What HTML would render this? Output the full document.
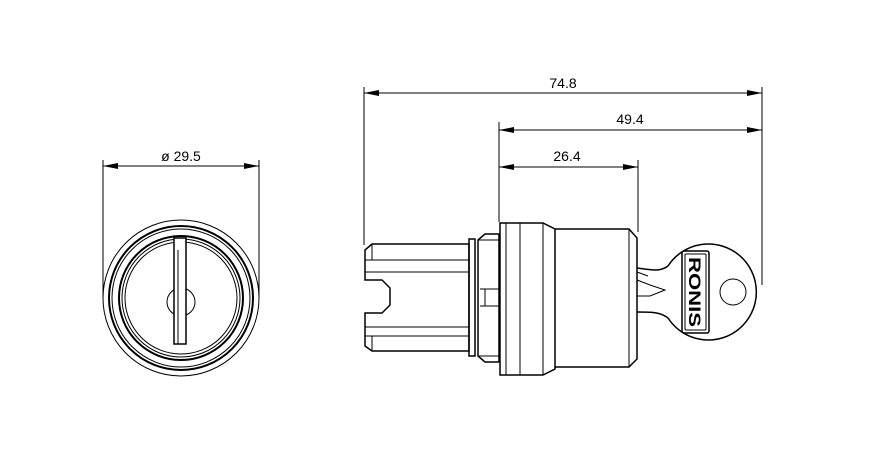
<!DOCTYPE html>
<html><head><style>body{margin:0;background:#fff}svg{display:block}</style></head><body>
<svg width="875" height="452" viewBox="0 0 875 452" xmlns="http://www.w3.org/2000/svg" font-family="Liberation Sans, sans-serif">
<defs>
<marker id="a" viewBox="0 0 10 4" refX="10" refY="2" markerWidth="24" markerHeight="6" markerUnits="userSpaceOnUse" orient="auto-start-reverse"><path d="M0,0L10,2L0,4z" fill="#000"/></marker>
</defs>
<g stroke="#000" fill="none" stroke-width="1">
<line x1="103" y1="160" x2="103" y2="298"/>
<line x1="259" y1="160" x2="259" y2="298"/>
<line x1="103" y1="166" x2="259" y2="166" marker-start="url(#a)" marker-end="url(#a)"/>
<circle cx="181" cy="298" r="78"/>
<circle cx="181" cy="298" r="72" stroke-width="2"/>
<circle cx="181" cy="298" r="69"/>
<circle cx="181" cy="298" r="62" stroke-width="2"/>
<circle cx="181" cy="298" r="59"/>
<circle cx="181" cy="298" r="56"/>
<circle cx="181" cy="302" r="14"/>
<rect x="174" y="238" width="12" height="106" fill="#fff" stroke-width="1.5"/>
<line x1="178" y1="250" x2="178" y2="344"/>
<line x1="364" y1="87" x2="364" y2="245"/>
<line x1="499" y1="122" x2="499" y2="222"/>
<line x1="638" y1="160" x2="638" y2="232"/>
<line x1="762" y1="87" x2="762" y2="285"/>
<line x1="364" y1="93" x2="762" y2="93" marker-start="url(#a)" marker-end="url(#a)"/>
<line x1="499" y1="130" x2="762" y2="130" marker-start="url(#a)" marker-end="url(#a)"/>
<line x1="499" y1="167" x2="638" y2="167" marker-start="url(#a)" marker-end="url(#a)"/>
<path d="M372,244H469V351H372L365,346V313H382L390,305V288L382,280H365V250Z" stroke-width="1.5"/>
<line x1="372" y1="244" x2="372" y2="260"/><line x1="365" y1="260" x2="469" y2="260"/>
<line x1="365" y1="272" x2="469" y2="272"/>
<line x1="365" y1="327" x2="469" y2="327"/>
<line x1="372" y1="336" x2="372" y2="351"/><line x1="365" y1="336" x2="469" y2="336"/>
<rect x="469" y="239" width="6" height="117" stroke-width="1.5"/>
<path d="M478,240L485,234H499V362H485L478,356Z" stroke-width="1.5"/>
<line x1="478" y1="240" x2="499" y2="240"/><line x1="478" y1="356" x2="499" y2="356"/>
<path d="M480,289h19M480,306h19M485,289v17"/>
<path d="M500,223H543L555,229V369L543,375H500Z" stroke-width="1.5"/>
<line x1="506" y1="223" x2="506" y2="375"/>
<line x1="520" y1="223" x2="520" y2="375"/>
<line x1="543" y1="223" x2="543" y2="375"/>
<path d="M555,229H629L637,238V359L629,367H555" stroke-width="1.5"/>
<line x1="629" y1="229" x2="629" y2="367"/>
<path d="M637,268C652,270 660,272 668,266A48,48 0 1 1 668,318C660,312 652,312 637,312" stroke-width="1.5"/>
<path d="M637,280L650,285L665,290L650,296L637,296"/>
<path d="M637,272L648,276"/>
<circle cx="733" cy="292" r="13"/>
<rect x="682" y="251" width="27" height="82" rx="2" stroke-width="1.5"/>
<rect x="685" y="254" width="21" height="76" rx="1"/>
</g>
<g font-size="14" fill="#000">
<text x="181" y="161" text-anchor="middle">ø 29.5</text>
<text x="563" y="88" text-anchor="middle">74.8</text>
<text x="630" y="124" text-anchor="middle">49.4</text>
<text x="567" y="161" text-anchor="middle">26.4</text>
<text x="0" y="0" font-size="17" font-weight="bold" text-anchor="middle" transform="translate(689,292) rotate(90)" textLength="70" lengthAdjust="spacingAndGlyphs">RONIS</text>
</g>
</svg>
</body></html>
